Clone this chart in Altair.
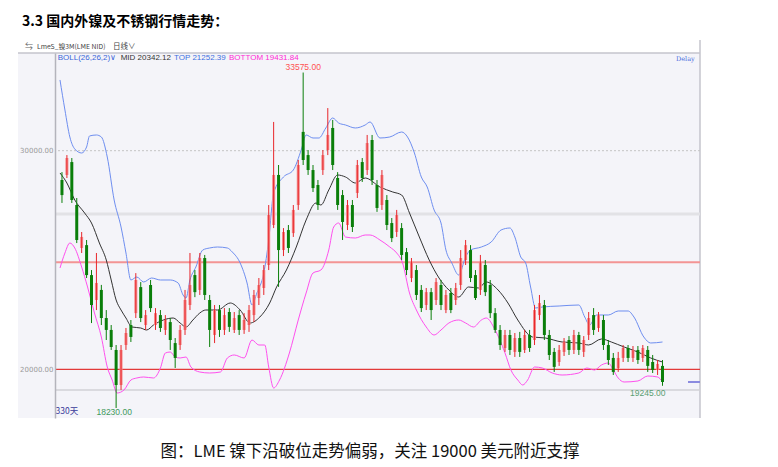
import altair as alt
import pandas as pd

# ---------------- data ----------------
opens = [28660, 28890, 29480, 27515, 25550, 25680, 24310, 23170, 23630, 22345,
         21800, 20885, 19280, 21110, 22025, 22570, 23760, 22025, 23855, 22025,
         22480, 21800, 22160, 21200, 21110, 21800, 22940, 24310, 23630, 25090,
         23170, 21570, 22710, 21800, 22620, 21800, 22480, 21800, 22025, 22480,
         23260, 23720, 24770, 26600, 28890, 25455, 26370, 26230, 27515, 30860,
         29800, 29115, 28430, 29115, 30030, 31040, 28750, 27970, 26600, 27515,
         28065, 29480, 29115, 30490, 28430, 27515, 27745, 26690, 26280, 26460,
         25360, 24175, 24540, 23630, 22940, 23530, 23170, 23855, 22710, 23490,
         23170, 23855, 25000, 25455, 24310, 23630, 24770, 23855, 22570, 21800,
         20975, 21570, 20795, 21430, 20885, 21570, 21340, 22480, 22940, 21570,
         20795, 20335, 20795, 21340, 20885, 21570, 20795, 21570, 22480, 21890,
         22255, 21110, 20520, 20060, 20520, 20975, 20520, 20885, 20520, 20885,
         20335, 19970, 20155]
closes = [27970, 29665, 27745, 25915, 26055, 24310, 22940, 23950, 22345, 21800,
          21020, 19280, 20885, 21660, 21480, 24085, 22345, 22480, 22800, 22570,
          21890, 22255, 21340, 20520, 21800, 23170, 23855, 23530, 25090, 23400,
          21800, 22710, 21800, 22480, 21940, 22345, 21800, 22255, 22710, 23400,
          23855, 24540, 27060, 28890, 25455, 26280, 25550, 27290, 29345, 29575,
          29115, 28290, 27515, 29800, 30720, 29345, 27515, 26740, 27515, 26510,
          29345, 28750, 30350, 28660, 27380, 28890, 26600, 26000, 27060, 25230,
          24540, 24910, 23400, 22800, 23530, 22710, 23990, 22940, 23400, 22710,
          23720, 25090, 25680, 24175, 23260, 24910, 23530, 22570, 21800, 21110,
          21570, 20885, 21430, 20795, 21570, 20975, 22710, 23030, 21570, 20655,
          20110, 20885, 21250, 20885, 21570, 20885, 21340, 22345, 21800, 22480,
          21110, 20425, 19880, 20520, 20975, 20520, 20885, 20425, 20975, 20155,
          19970, 20245, 19420]
highs = [29020, 29800, 29665, 27835, 26280, 25915, 24540, 25320, 23860, 22710,
         22025, 21110, 21110, 21890, 22255, 24400, 23990, 22710, 24085, 22800,
         22710, 22480, 22345, 21430, 22025, 23630, 25320, 24540, 25320, 25230,
         23400, 22940, 22940, 22800, 22800, 22620, 22710, 22570, 22940, 23630,
         24175, 24770, 27515, 31315, 29345, 26460, 26600, 27515, 29575, 33575,
         30030, 29345, 28660, 30030, 31950, 31405, 29020, 28200, 27745, 27745,
         29575, 29665, 30720, 30720, 28660, 29115, 27970, 26920, 27290, 26690,
         25550, 25090, 24770, 23855, 23720, 23720, 24175, 24085, 23630, 23720,
         23950, 25455, 25915, 25680, 24540, 25230, 25000, 24085, 22800, 22025,
         21800, 21800, 21660, 21710, 21800, 21800, 22940, 23400, 23170, 21800,
         20975, 21110, 21430, 21520, 21800, 21710, 21520, 22620, 22800, 22620,
         22480, 21340, 20745, 20795, 21110, 21110, 21065, 21065, 21110, 21065,
         20655, 20425, 20425]
lows = [27610, 28750, 27610, 25775, 25320, 24175, 22115, 22710, 22025, 21340,
        20885, 18230, 19055, 20885, 21250, 22345, 22160, 21800, 22620, 21800,
        21710, 21570, 20885, 20060, 20885, 21570, 22710, 23300, 23400, 23170,
        21020, 21200, 21480, 21570, 21710, 21660, 21570, 21620, 21710, 22160,
        22940, 23400, 24540, 26460, 23770, 25180, 25320, 26055, 27290, 29345,
        28890, 28110, 27290, 28890, 29800, 29115, 27290, 25915, 26370, 26280,
        27835, 28570, 28890, 28430, 27200, 27290, 26370, 25820, 26055, 25000,
        24310, 23990, 23170, 22620, 22710, 22255, 22940, 22710, 22570, 22570,
        22940, 23630, 24770, 23990, 23170, 23400, 23350, 22345, 21660, 20885,
        20795, 20655, 20565, 20565, 20745, 20795, 21110, 22255, 21340, 20425,
        19880, 20155, 20610, 20655, 20700, 20655, 20565, 21340, 21570, 21710,
        20885, 20200, 19740, 19880, 20335, 20335, 20335, 20245, 20335, 19880,
        19830, 19740, 19245]

upper_idx = [-0.4, 0.6, 1.6, 2.6, 4.0, 5.0, 5.6, 7.0, 8.0, 9.2, 10.6, 12.0, 13.0, 14.0,
             15.2, 16.6, 18.2, 20.0, 22.0, 23.6, 24.6, 25.2, 26.0, 27.2, 28.6, 30.0,
             31.6, 33.6, 34.6, 36.2, 37.6, 38.6, 39.6, 41.0, 42.0, 43.0, 45.0, 47.0,
             48.6, 49.6, 51.0, 52.2, 53.6, 55.0, 56.2, 57.6, 59.6, 61.6, 62.6, 64.6,
             66.6, 69.0, 70.2, 71.6, 73.0, 74.2, 75.6, 77.0, 78.0, 79.2, 80.6, 82.0,
             83.0, 85.2, 87.2, 89.2, 91.0, 92.0, 93.2, 94.2, 95.2, 96.2, 97.6, 101.0,
             105.0, 106.2, 107.2, 108.6, 111.0, 113.0, 115.0, 116.2, 118.2, 119.6, 122.0]
upper_val = [33235, 31862, 30627, 30078, 29895, 30169, 30673, 30718, 30627, 29712,
             27745, 26509, 25320, 24085, 24222, 23993, 24176, 24085, 24085, 23947,
             23398, 23261, 24085, 24679, 25457, 25549, 25594, 25549, 25366, 24863,
             23947, 22941, 23490, 24405, 25915, 28065, 28797, 29117, 30032, 30718,
             30581, 30581, 31039, 31496, 31267, 31176, 31039, 31176, 31313, 30581,
             30627, 30855, 30627, 29895, 28797, 28339, 27287, 26692, 25457, 24863,
             24313, 25137, 25457, 25594, 25823, 26372, 26463, 26051, 25137, 24863,
             23765, 22804, 22850, 22895, 22941, 22392, 22026, 22484, 22484, 22667,
             22667, 22392, 21477, 21203, 21249]

mid_idx = [-0.4, 1.0, 2.6, 4.6, 6.0, 7.6, 9.0, 10.0, 11.0, 12.0, 13.0, 14.2, 16.0, 17.2,
           18.6, 20.6, 22.6, 24.0, 25.2, 26.6, 28.0, 29.2, 31.6, 34.2, 36.2, 38.2, 40.2,
           42.2, 43.6, 45.6, 47.6, 49.6, 51.6, 52.6, 54.2, 56.0, 57.6, 59.6, 61.6, 64.6,
           67.2, 69.0, 70.6, 72.6, 74.6, 76.6, 78.6, 80.6, 82.6, 84.6, 86.2, 88.6, 90.6,
           92.6, 95.6, 98.2, 101.6, 105.0, 107.0, 109.6, 111.6, 114.2, 117.0, 119.6, 122.0]
mid_val = [28980, 28522, 27745, 27150, 26692, 25777, 25000, 24085, 23170, 22712,
           22346, 21935, 21889, 21797, 22026, 22255, 22346, 22117, 21935, 22255,
           22575, 22712, 22712, 23032, 22712, 22117, 22392, 23032, 23765, 24542,
           25594, 26829, 27607, 27516, 28202, 28888, 28797, 28522, 28751, 28339,
           28111, 27973, 27150, 26052, 25000, 24176, 23627, 23307, 23765, 23719,
           23993, 23627, 23032, 22255, 21477, 21432, 21249, 21203, 21112, 21386,
           21249, 21020, 20791, 20517, 20334]

lower_idx = [-0.4, 0.6, 1.6, 2.6, 4.0, 5.2, 6.6, 8.0, 9.2, 10.2, 11.2, 12.6, 14.0, 15.2,
             16.6, 18.6, 20.0, 21.0, 22.0, 23.0, 24.0, 25.2, 26.2, 28.0, 30.0, 32.2,
             33.6, 35.0, 37.0, 38.6, 40.0, 41.2, 42.0, 43.0, 44.2, 46.2, 48.0, 49.6,
             51.0, 52.6, 54.2, 55.2, 56.2, 57.6, 59.6, 61.6, 62.6, 64.6, 66.6, 68.0,
             69.2, 70.6, 72.0, 74.0, 75.6, 77.0, 78.6, 80.6, 82.0, 83.6, 85.2, 86.2,
             88.0, 90.0, 91.2, 92.6, 93.6, 94.6, 96.0, 97.6, 99.6, 101.6, 105.0, 106.6,
             108.2, 109.6, 111.0, 112.0, 113.0, 114.2, 117.0, 119.0, 121.0, 122.0]
lower_val = [24634, 25320, 25777, 25549, 24679, 23765, 22575, 21477, 20105, 19510,
             18915, 19053, 19510, 19602, 19648, 19602, 20059, 20745, 20791, 20562,
             20517, 20562, 20105, 19876, 19831, 19876, 20517, 20654, 20517, 21340,
             21111, 21111, 20105, 19144, 19510, 20745, 22255, 23490, 24405, 24542,
             25457, 26509, 26692, 26051, 26006, 26143, 26143, 25915, 25594, 25320,
             24863, 23490, 22712, 21935, 21569, 21798, 22118, 22255, 22118, 21935,
             22255, 22346, 21798, 20745, 19968, 19510, 19282, 19510, 20105, 20059,
             19831, 19739, 19831, 20059, 19968, 20197, 20288, 19968, 19602, 19419,
             19465, 19693, 19648, 19419]

ref_levels = [27100, 24900, 20000, 19050]
ref_colors = ["#e2e2e6", "#f39494", "#e23a3a", "#d2d2d6"]
ref_widths = [3, 2, 1.2, 1.5]

y_ticks = [20000, 30000]
y_domain = [17772, 34469]
x_domain = [-0.4, 128.6]

title_text = "3.3 国内外镍及不锈钢行情走势："
caption_text = "图：LME 镍下沿破位走势偏弱，关注 19000 美元附近支撑"

# ---------------- frames ----------------
n = len(closes)
up = [c >= o for o, c in zip(opens, closes)]
candles = pd.DataFrame({"i": list(range(n)), "open": opens, "close": closes,
                        "high": highs, "low": lows})
candles["body_c"] = ["#f48a8a" if u else "#0b7f0b" for u in up]
candles["wick_c"] = ["#e8262b" if u else "#0b7f0b" for u in up]

band_colors = {"top": "#6e8ef0", "mid": "#333333", "bottom": "#ff50ee"}
bands = pd.concat([
    pd.DataFrame({"i": upper_idx, "v": upper_val, "band": "top"}),
    pd.DataFrame({"i": mid_idx, "v": mid_val, "band": "mid"}),
    pd.DataFrame({"i": lower_idx, "v": lower_val, "band": "bottom"}),
])
bands["c"] = bands["band"].map(band_colors)
refs = pd.DataFrame({"v": ref_levels, "c": ref_colors, "w": ref_widths})
grid_df = pd.DataFrame({"v": [y_ticks[1]]})

W, H = 645, 365
xs = alt.Scale(domain=x_domain, nice=False, zero=False)
ys = alt.Scale(domain=y_domain, nice=False, zero=False)
one = pd.DataFrame({"a": [0]})

panel = alt.Chart(one).mark_rect(color="#f4f4f9").encode(
    x=alt.value(-37), x2=alt.value(W), y=alt.value(0), y2=alt.value(H))

header_line = alt.Chart(one).mark_rule(color="#c4c4cc", strokeWidth=1.5).encode(
    x=alt.value(-37), x2=alt.value(W), y=alt.value(0))
right_line = alt.Chart(one).mark_rule(color="#c4c4cc", strokeWidth=1.5).encode(
    x=alt.value(W), y=alt.value(-13), y2=alt.value(H))

axis_layer = alt.Chart(candles).mark_point(opacity=0).encode(
    x=alt.X("i:Q", scale=xs, axis=None),
    y=alt.Y("close:Q", scale=ys, title=None,
            axis=alt.Axis(values=y_ticks, format=".2f", labelFontSize=7,
                          labelColor="#9a9a9a", labelFont="DejaVu Sans",
                          ticks=False, labelPadding=2, domainColor="#b4b4bc",
                          domainWidth=1.5, grid=False, zindex=1)))

grid_layer = alt.Chart(grid_df).mark_rule(color="#c4c4c4", strokeDash=[2, 2]).encode(
    y=alt.Y("v:Q", scale=ys))

ref_layer = alt.Chart(refs).mark_rule().encode(
    y=alt.Y("v:Q", scale=ys),
    color=alt.Color("c:N", scale=None),
    strokeWidth=alt.StrokeWidth("w:Q", scale=None))

band_layer = alt.Chart(bands).mark_line(strokeWidth=1, interpolate="monotone").encode(
    x=alt.X("i:Q", scale=xs),
    y=alt.Y("v:Q", scale=ys),
    detail="band:N",
    color=alt.Color("c:N", scale=None))

bodies = alt.Chart(candles).mark_bar(size=3).encode(
    x=alt.X("i:Q", scale=xs),
    y=alt.Y("open:Q", scale=ys),
    y2="close:Q",
    color=alt.Color("body_c:N", scale=None))

wicks = alt.Chart(candles).mark_rule(strokeWidth=1).encode(
    x=alt.X("i:Q", scale=xs),
    y=alt.Y("low:Q", scale=ys),
    y2="high:Q",
    color=alt.Color("wick_c:N", scale=None))

last_close = pd.DataFrame({"v": [closes[-1]]})
price_tag = alt.Chart(last_close).mark_rule(color="#8c8ce0", strokeWidth=2).encode(
    y=alt.Y("v:Q", scale=ys), x=alt.value(633), x2=alt.value(W))

hi_i = highs.index(max(highs))
lo_i = lows.index(min(lows))
marks = pd.DataFrame({
    "i": [hi_i, lo_i - 0.4, n - 4],
    "v": [max(highs), min(lows), lows[-1]],
    "t": [f"{max(highs):.2f}", f"{min(lows):.2f}", f"{lows[-1]:.2f}"],
    "c": ["#ff5252", "#3f9a5c", "#5a9e72"],
})
LF = "Liberation Sans"
hi_lab = alt.Chart(marks.iloc[[0]]).mark_text(fontSize=8.5, font=LF, dy=-6).encode(
    x=alt.X("i:Q", scale=xs), y=alt.Y("v:Q", scale=ys), text="t:N",
    color=alt.Color("c:N", scale=None))
lo_lab = alt.Chart(marks.iloc[[1]]).mark_text(fontSize=8.5, font=LF, dy=4).encode(
    x=alt.X("i:Q", scale=xs), y=alt.Y("v:Q", scale=ys), text="t:N",
    color=alt.Color("c:N", scale=None))
end_lab = alt.Chart(marks.iloc[[2]]).mark_text(fontSize=8.5, font=LF, dy=7).encode(
    x=alt.X("i:Q", scale=xs), y=alt.Y("v:Q", scale=ys), text="t:N",
    color=alt.Color("c:N", scale=None))


def label(txt, x, y, color, size=8.5, weight="normal", font="Noto Sans CJK SC",
          align="left"):
    return alt.Chart(one).mark_text(text=txt, align=align, baseline="middle",
                                    fontSize=size, fontWeight=weight, font=font,
                                    color=color).encode(x=alt.value(x), y=alt.value(y))


texts = [
    label(title_text, -33, -31, "#000000", size=14, weight="bold"),
    label("⇆", -30, -6, "#666666", size=8),
    label("LmeS_镍3M(LME NID)", -18, -6, "#444444", size=6.8),
    label("日线∨", 58, -6, "#444444", size=7.5),
    label("BOLL(26,26,2)∨", 2.7, 5, "#3a66d8", font=LF, size=8),
    label("MID 20342.12", 65.7, 5, "#333333", font=LF, size=8),
    label("TOP 21252.39", 119, 5, "#4070e0", font=LF, size=8),
    label("BOTTOM 19431.84", 174, 5, "#ff2ad4", font=LF, size=8),
    label("Delay", 621, 6, "#4a6ee0", font="DejaVu Serif", size=6.5),
    label("330天", 0.5, 358, "#3a3a9a", size=8.5),
    label(caption_text, 315, 399, "#111111", size=16.5, align="center"),
]

chart = alt.layer(
    panel, header_line, right_line, axis_layer, grid_layer, ref_layer, band_layer,
    bodies, wicks, price_tag, hi_lab, lo_lab, end_lab, *texts
).properties(
    width=W, height=H,
    padding={"left": 47, "top": 45, "right": 20, "bottom": 45},
    autosize=alt.AutoSizeParams(type="none"),
    background="white",
).configure_view(stroke=None)

chart.save("out.html", embed_options={"renderer": "svg", "actions": False})
